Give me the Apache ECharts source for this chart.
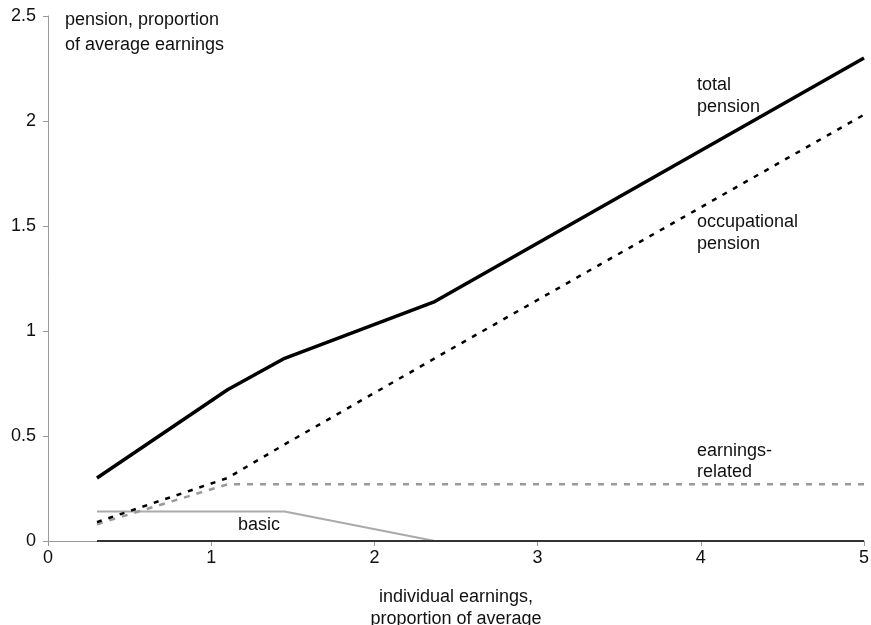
<!DOCTYPE html>
<html>
<head>
<meta charset="utf-8">
<script src="https://cdn.jsdelivr.net/npm/echarts@6/dist/echarts.min.js"></script>
<style>html,body{margin:0;padding:0;background:#fff;overflow:hidden}#c{position:absolute;left:0;top:0;width:871px;height:625px}</style>
</head>
<body>
<div id="c"></div>
<script>
// Data
var earningsX      = [0.3, 1.1, 1.45, 2.37, 5];
var totalPension   = [0.30, 0.72, 0.87, 1.14, 2.30];
var occupational   = [0.09, 0.30, 0.46, 0.87, 2.03];
var earningsRelX   = [0.3, 1.1, 5];
var earningsRel    = [0.08, 0.27, 0.27];
var basicX         = [0.3, 1.45, 2.37, 5];
var basic          = [0.14, 0.14, 0, 0];
var zeroX          = [0.3, 5];
var zeroLine       = [0, 0];
var xTicks = [0, 1, 2, 3, 4, 5];
var yTicks = [0, 0.5, 1, 1.5, 2, 2.5];

function pairs(xs, ys){ return xs.map(function(x,i){ return [x, ys[i]]; }); }

var font = 'Liberation Sans, Arial, Helvetica, sans-serif';
var el = document.getElementById('c');
var chart = echarts.init(el, null, {renderer:'canvas', width: 871, height: 625});
chart.setOption({
  animation: false,
  backgroundColor: '#fff',
  grid: {left: 48, right: 7, top: 16, bottom: 84, containLabel: false, outerBoundsMode: 'none'},
  xAxis: {
    type: 'value', min: 0, max: 5, interval: 1,
    name: 'individual earnings,\nproportion of average',
    nameLocation: 'middle', nameGap: 45,
    nameTextStyle: {fontFamily: font, fontSize: 18, color: '#111', lineHeight: 22},
    axisLine: {lineStyle: {color: '#999', width: 1}},
    axisTick: {show: true, length: 5, lineStyle: {color: '#999'}},
    axisLabel: {fontFamily: font, fontSize: 18, color: '#111', margin: 8,
      formatter: function(v){ return xTicks.indexOf(v) >= 0 ? String(v) : ''; }},
    splitLine: {show: false}
  },
  yAxis: {
    type: 'value', min: 0, max: 2.5, interval: 0.5,
    axisLine: {show: true, lineStyle: {color: '#999', width: 1}},
    axisTick: {show: true, length: 5, lineStyle: {color: '#999'}},
    axisLabel: {fontFamily: font, fontSize: 18, color: '#111', margin: 12,
      formatter: function(v){ return yTicks.indexOf(v) >= 0 ? String(v) : ''; }},
    splitLine: {show: false}
  },
  series: [
    {name:'basic', type:'line', data: pairs(basicX, basic), symbol:'none',
     lineStyle:{color:'#aaa', width:2}, z: 2},
    {name:'zero', type:'line', data: pairs(zeroX, zeroLine), symbol:'none',
     lineStyle:{color:'#333', width:2}, z: 3},
    {name:'earnings-related', type:'line', data: pairs(earningsRelX, earningsRel), symbol:'none',
     lineStyle:{color:'#9a9a9a', width:2.5, type:[6,7]}, z: 4},
    {name:'occupational pension', type:'line', data: pairs(earningsX, occupational), symbol:'none',
     lineStyle:{color:'#000', width:2.5, type:[5,7]}, z: 5},
    {name:'total pension', type:'line', data: pairs(earningsX, totalPension), symbol:'none',
     lineStyle:{color:'#000', width:3.5}, z: 6}
  ],
  graphic: [
    {type:'text', left: 65, top: 8, style:{text:'pension, proportion\nof average earnings', font:'18px ' + font, fill:'#111', lineHeight:25}},
    {type:'text', left: 697, top: 74, style:{text:'total\npension', font:'18px ' + font, fill:'#111', lineHeight:22}},
    {type:'text', left: 697, top: 211, style:{text:'occupational\npension', font:'18px ' + font, fill:'#111', lineHeight:22}},
    {type:'text', left: 697, top: 441, style:{text:'earnings-\nrelated', font:'18px ' + font, fill:'#111', lineHeight:21}},
    {type:'text', left: 238, top: 514, style:{text:'basic', font:'18px ' + font, fill:'#111', lineHeight:22}}
  ]
});
</script>
</body>
</html>
